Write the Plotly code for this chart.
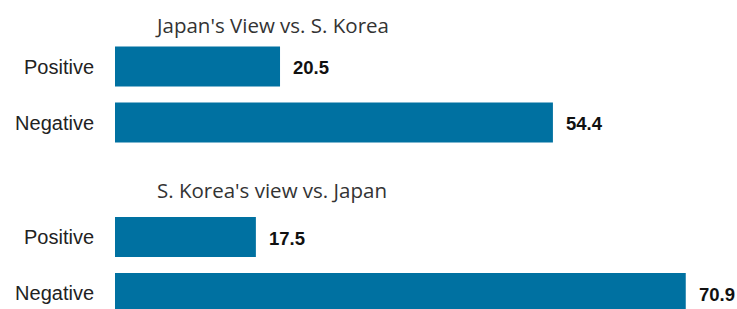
import plotly.graph_objects as go
from plotly.subplots import make_subplots

categories = ["Positive", "Negative"]
japan_view = [20.5, 54.4]
korea_view = [17.5, 70.9]
titles = ["Japan's View vs. S. Korea", "S. Korea's view vs. Japan"]

W, H = 737, 309
L = 115
px_per_unit = 8.05
xmax = (W - L) / px_per_unit

BAR = "#0071a1"

fig = make_subplots(rows=2, cols=1)

for i, vals in enumerate([japan_view, korea_view], start=1):
    fig.add_trace(go.Bar(
        x=vals, y=categories, orientation="h",
        marker=dict(color=BAR, line=dict(width=0)),
        showlegend=False, hoverinfo="x+y",
    ), row=i, col=1)
    xr = "x" if i == 1 else "x2"
    yr = "y" if i == 1 else "y2"
    for c, v in zip(categories, vals):
        fig.add_annotation(x=v, y=c, xref=xr, yref=yr, text=f"<b>{v:.1f}</b>",
                           showarrow=False, xanchor="left", yanchor="middle",
                           xshift=11, yshift=-1,
                           font=dict(family="Liberation Sans, Arial", size=18.5,
                                     color="#111111"))

def frac(py):
    return 1 - py / H

tick_font = dict(family="Liberation Sans, Arial", size=20, color="#222222")
fig.update_layout(
    width=W, height=H, margin=dict(l=L, r=0, t=0, b=0, autoexpand=False),
    paper_bgcolor="white", plot_bgcolor="white", bargap=0.29,
    xaxis=dict(range=[0, xmax], visible=False, domain=[0, 1], automargin=False),
    xaxis2=dict(range=[0, xmax], visible=False, domain=[0, 1], automargin=False),
    yaxis=dict(domain=[frac(150.5), frac(38.5)], range=[1.5, -0.5], automargin=False,
               showgrid=False, zeroline=False, showline=False, ticks="",
               ticklabelstandoff=20, tickfont=tick_font),
    yaxis2=dict(domain=[0, frac(209)], range=[-0.5 + 100 / 56, -0.5], automargin=False,
                showgrid=False, zeroline=False, showline=False, ticks="",
                ticklabelstandoff=20, tickfont=tick_font),
)

for t, yc in zip(titles, [25, 190]):
    fig.add_annotation(text=t, x=(271.5 - L) / (W - L), xref="paper", yref="paper",
                       y=frac(yc), showarrow=False, xanchor="center", yanchor="middle",
                       font=dict(family="Open Sans", size=20.5, color="#333333"))

fig.write_html("out.html", config={"displayModeBar": False},
               post_script="document.body.style.margin='0';document.body.style.overflow='hidden';")
